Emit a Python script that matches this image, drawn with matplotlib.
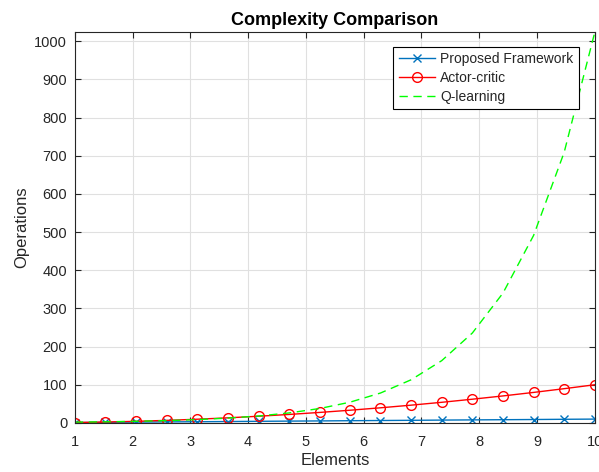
import matplotlib.pyplot as plt

plt.rcParams['font.family'] = ['Liberation Sans', 'DejaVu Sans']

# sample points along the x axis (18 evenly spaced elements)
elements = [1.00, 1.53, 2.06, 2.59, 3.12, 3.65, 4.18, 4.71, 5.24,
            5.76, 6.29, 6.82, 7.35, 7.88, 8.41, 8.94, 9.47, 10.00]

proposed = [1.0, 1.5, 2.1, 2.6, 3.1, 3.6, 4.2, 4.7, 5.2,
            5.8, 6.3, 6.8, 7.4, 7.9, 8.4, 8.9, 9.5, 10.0]
actor_critic = [1.0, 2.3, 4.2, 6.7, 9.7, 13.3, 17.5, 22.2, 27.5,
                33.2, 39.6, 46.5, 54.0, 62.1, 70.7, 79.9, 89.7, 100.0]
q_learning = [2.0, 2.9, 4.2, 6.0, 8.7, 12.6, 18.1, 26.2, 37.8,
              54.2, 78.3, 113.0, 163.1, 235.5, 340.1, 491.1, 709.1, 1024.0]

xticks = [1, 2, 3, 4, 5, 6, 7, 8, 9, 10]
yticks = [0, 100, 200, 300, 400, 500, 600, 700, 800, 900, 1000]

fig = plt.figure(figsize=(5.99, 4.72), dpi=100)
ax = fig.add_axes([0.125, 0.104, 0.868, 0.828])

ax.plot(elements, proposed, color=(0, 0.447, 0.741), marker='x', markersize=6,
        linewidth=1, label='Proposed Framework')
ax.plot(elements, actor_critic, color='red', marker='o', markersize=7,
        markerfacecolor='none', linewidth=1, label='Actor-critic')
ax.plot(elements, q_learning, color=(0, 1, 0), linestyle=(0, (6, 4)),
        linewidth=1, label='Q-learning')

ax.set_xlim(1, 10)
ax.set_ylim(0, 1024)
ax.set_xticks(xticks)
ax.set_yticks(yticks)
ax.grid(True, color='#e0e0e0', linewidth=0.8)
ax.set_axisbelow(True)
ax.tick_params(direction='in', length=4, colors='#262626', labelsize=10.5,
               top=True, right=True, labeltop=False, labelright=False)
ax.tick_params(axis='x', pad=8.5)
ax.tick_params(axis='y', pad=5.5)
for s in ax.spines.values():
    s.set_color('#262626')

ax.set_xlabel('Elements', fontsize=12, color='#262626', labelpad=3)
ax.set_ylabel('Operations', fontsize=12, color='#262626', labelpad=4)
ax.set_title('Complexity Comparison', fontsize=13, fontweight='bold', pad=5)

leg = ax.legend(loc='upper right', bbox_to_anchor=(0.975, 0.97), fontsize=10,
                fancybox=False, framealpha=1, edgecolor='black', numpoints=1,
                handlelength=2.6, handletextpad=0.4, borderpad=0.4,
                labelspacing=0.35, borderaxespad=0.2)
leg.get_frame().set_linewidth(0.8)
for t in leg.get_texts():
    t.set_color('#262626')

fig.savefig('out.png', dpi=100)
